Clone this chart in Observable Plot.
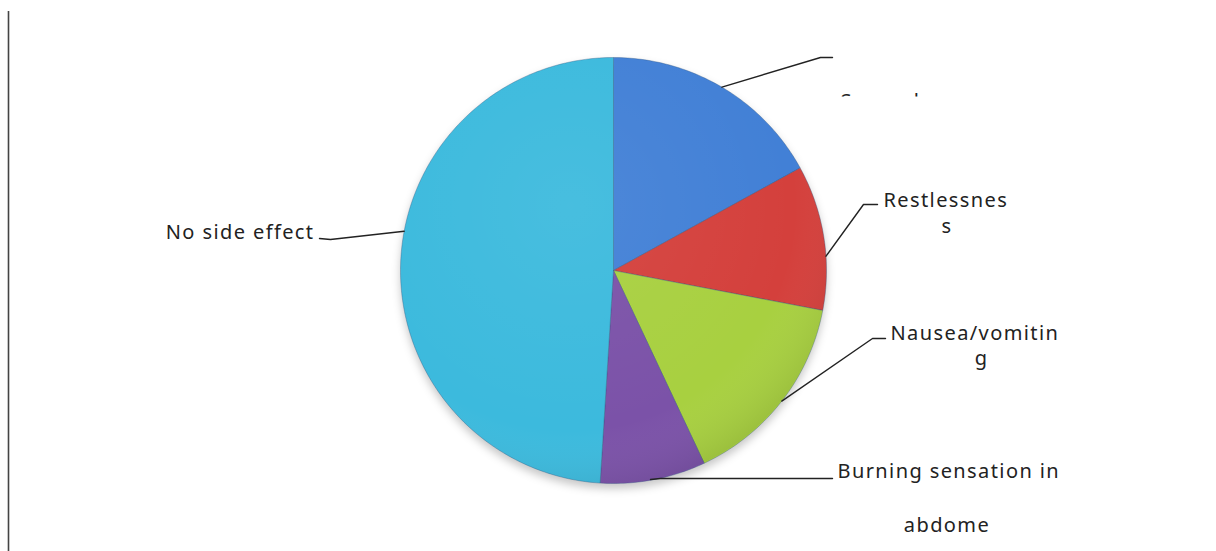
<!DOCTYPE html>
<html>
<head>
<meta charset="utf-8">
<script src="https://cdn.jsdelivr.net/npm/d3@7"></script>
<script src="https://cdn.jsdelivr.net/npm/@observablehq/plot@0.6"></script>
<style>
  html, body { margin: 0; padding: 0; background: #fff; }
  #chart { position: relative; width: 1216px; height: 551px; }
  #chart text { letter-spacing: 1.4px; }
</style>
</head>
<body>
<div id="chart"></div>
<script>
// ---- data ----
const categories = ["Somnolence", "Restlessness", "Nausea/vomiting", "Burning sensation in abdome", "No side effect"];
const values = [17, 11, 15, 8, 49];
const colors = ["#4280d6", "#d4403c", "#a8d040", "#7b52a8", "#3cbadd"];
const labelLines = [
  ["Somnolence"],
  ["Restlessnes", "s"],
  ["Nausea/vomitin", "g"],
  ["Burning sensation in", "abdome"],
  ["No side effect"]
];

// ---- layout ----
const W = 1216, H = 551;
const cx = 613, cy = 270, R = 213;

const pie = d3.pie().sort(null).value(d => d)(values);
const slices = [];
pie.forEach((p, i) => {
  const n = Math.max(8, Math.ceil((p.endAngle - p.startAngle) * 60));
  slices.push({cat: categories[i], px: cx, py: cy, i});
  for (let k = 0; k <= n; k++) {
    const a = p.startAngle + (p.endAngle - p.startAngle) * k / n;
    slices.push({cat: categories[i], px: cx + R * Math.sin(a), py: cy - R * Math.cos(a), i});
  }
  slices.push({cat: categories[i], px: cx, py: cy, i});
});

const leaderSpec = [
  {angleFrac: 0.50, elbow: [820, 57], end: [832, 57], text: [840, 100.8], anchor: "start", second: null},
  {angleFrac: 0.63, elbow: [863, 204], end: [877, 204], text: [883, 200.5], anchor: "start", second: [946.5, 226.5]},
  {angleFrac: 0.50, elbow: [872, 338], end: [885, 338], text: [890, 333], anchor: "start", second: [981, 358.5]},
  {angleFrac: 0.30, elbow: [660, 478], end: [832, 478], text: [837, 471], anchor: "start", second: [946.5, 525.3]},
  {angleFrac: 0.55, elbow: [330, 239], end: [319, 238], text: [314, 231.6], anchor: "end", second: null}
];
const leaders = [];
pie.forEach((p, i) => {
  const s = leaderSpec[i];
  const a = p.startAngle + (p.endAngle - p.startAngle) * s.angleFrac;
  let start = [cx + R * Math.sin(a), cy - R * Math.cos(a)];
  if (i === 3) start = [650, 479];
  leaders.push({i, px: start[0], py: start[1]});
  leaders.push({i, px: s.elbow[0], py: s.elbow[1]});
  leaders.push({i, px: s.end[0], py: s.end[1]});
});
const labels = [];
labelLines.forEach((lines, i) => {
  const s = leaderSpec[i];
  lines.forEach((t, j) => {
    if (j === 0) labels.push({i, t, x: s.text[0], y: s.text[1], anchor: s.anchor});
    else labels.push({i, t, x: s.second[0], y: s.second[1], anchor: "middle"});
  });
});

const font = "'Noto Sans', 'Open Sans', sans-serif";
const fs = 20;

const plot = Plot.plot({
  width: W, height: H,
  margin: 0,
  x: {domain: [0, W], range: [0, W], axis: null},
  y: {domain: [0, H], range: [0, H], axis: null},
  color: {domain: categories, range: colors},
  style: {fontFamily: font, background: "#fff"},
  marks: [
    Plot.ruleX([0], {x: () => 8, y1: () => 11, y2: () => H, stroke: "#444", strokeWidth: 1.6}),
    Plot.line(slices, {x: "px", y: "py", z: "cat", fill: "cat", stroke: "#2b4f7a", strokeOpacity: 0.35, strokeWidth: 1, curve: "linear", className: "pie"}),
    Plot.line(leaders, {x: "px", y: "py", z: "i", stroke: "#222", strokeWidth: 1.4}),
    Plot.text(labels.filter(d => d.anchor === "start"), {x: "x", y: "y", text: "t", textAnchor: "start", fill: "#222", fontSize: fs}),
    Plot.text(labels.filter(d => d.anchor === "middle"), {x: "x", y: "y", text: "t", textAnchor: "middle", fill: "#222", fontSize: fs}),
    Plot.text(labels.filter(d => d.anchor === "end"), {x: "x", y: "y", text: "t", textAnchor: "end", fill: "#222", fontSize: fs})
  ]
});
document.getElementById("chart").appendChild(plot);

const svg = d3.select(plot);
svg.select(".pie").style("filter", "drop-shadow(0px 5px 4px rgba(0,0,0,0.22))");
const defs = svg.insert("defs", ":first-child");
const g = defs.append("radialGradient").attr("id", "shade").attr("cx", "40%").attr("cy", "35%").attr("r", "70%");
g.append("stop").attr("offset", "0%").attr("stop-color", "#fff").attr("stop-opacity", 0.06);
g.append("stop").attr("offset", "75%").attr("stop-color", "#fff").attr("stop-opacity", 0.0);
g.append("stop").attr("offset", "100%").attr("stop-color", "#000").attr("stop-opacity", 0.1);
defs.append("clipPath").attr("id", "clipS").append("rect").attr("x", 830).attr("y", 90.5).attr("width", 200).attr("height", 5.5);
// the original export shows only a sliver of the first label
svg.selectAll("text").filter(function() { return this.textContent === "Somnolence"; }).each(function() {
  const wrap = document.createElementNS("http://www.w3.org/2000/svg", "g");
  wrap.setAttribute("clip-path", "url(#clipS)");
  this.parentNode.insertBefore(wrap, this);
  wrap.appendChild(this);
});
const xs = plot.scale("x"), ys = plot.scale("y");
svg.append("circle").attr("cx", xs.apply(cx)).attr("cy", ys.apply(cy)).attr("r", xs.apply(cx + R) - xs.apply(cx))
  .attr("fill", "url(#shade)").attr("pointer-events", "none");
</script>
</body>
</html>
